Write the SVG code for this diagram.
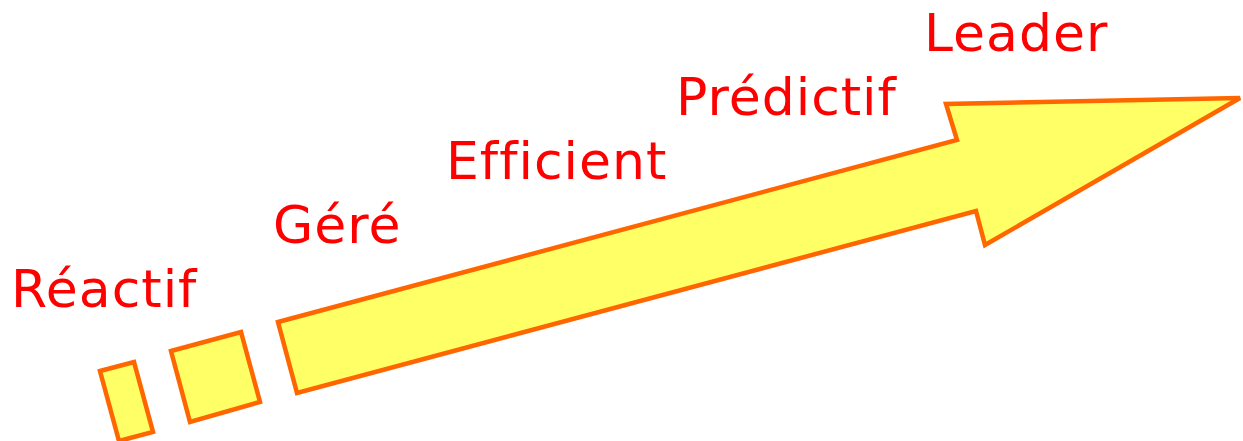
<svg xmlns="http://www.w3.org/2000/svg" width="1243" height="441" viewBox="0 0 1243 441">
<style>
.s{fill:#FFFF66;stroke:#FF6600;stroke-width:4.5;stroke-linejoin:miter}
.t{font-family:"DejaVu Sans",Verdana,sans-serif;font-size:52px;letter-spacing:1px;font-variant-ligatures:none;fill:#FF0000}
</style>
<rect width="1243" height="441" fill="#fff"/>
<g id="block1"><polygon class="s" points="100,371 134,362 153,432 119,441"/></g>
<g id="block2"><polygon class="s" points="171,351 241,332 260,402 190,422"/></g>
<g id="arrow"><polygon class="s" points="278,322 957,140 946,104 1240,98 985,245 976,211 297,393"/></g>
<g id="labels">
<text class="t" x="11" y="307">Réactif</text>
<text class="t" x="273" y="243">Géré</text>
<text class="t" x="446" y="179">Efficient</text>
<text class="t" x="676" y="115">Prédictif</text>
<text class="t" x="924" y="51">Leader</text>
</g>
</svg>
